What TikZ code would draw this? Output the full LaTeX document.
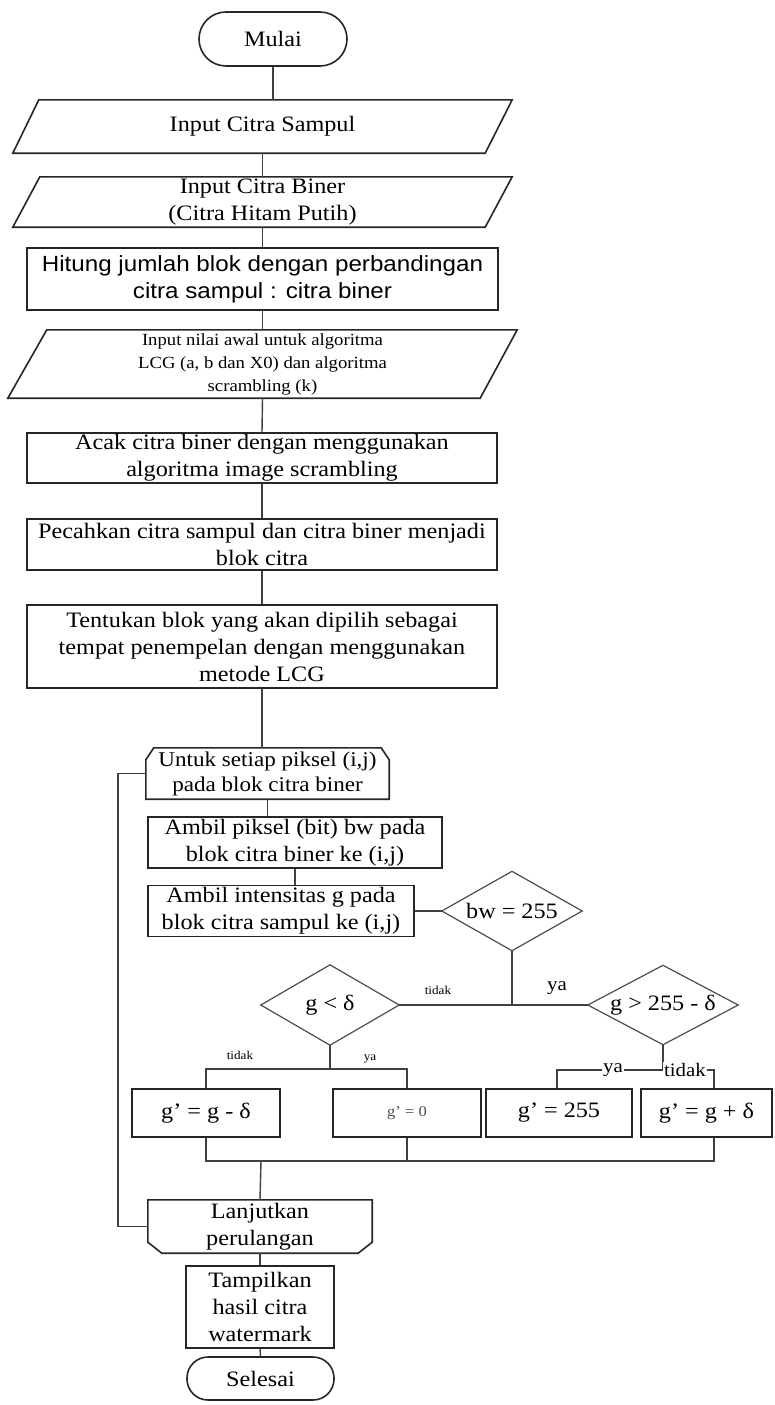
\documentclass[tikz,border=0pt]{standalone}
\usepackage{fontspec}
\setmainfont{Liberation Serif}[FakeStretch=1.1]
\newfontfamily\sansf{Liberation Sans}[FakeStretch=1.1]
\begin{document}
\begin{tikzpicture}[x=1pt,y=-1pt]
\tikzset{
  base/.style={inner sep=0pt, align=center, font=\fontsize{22}{27}\selectfont},
  box/.style={base, draw=black!85, line width=1.6pt},
  plain/.style={base},
  conn/.style={line width=1.4pt, draw=black!75},
  shapeline/.style={line width=1.6pt, draw=black!85},
  dialine/.style={line width=1.2pt, draw=black!70},
  lbls/.style={inner sep=1pt, font=\fontsize{12}{14}\selectfont},
  lblb/.style={inner sep=1pt, font=\fontsize{19}{22}\selectfont},
}
\useasboundingbox (0,0) rectangle (774,1405);

% top column
\node[box, rounded corners=27pt, minimum width=148pt, minimum height=54pt] (start) at (273,39) {Mulai};

\node[plain, minimum width=499pt, minimum height=53pt] (in1) at (262.5,126.5) {Input Citra Sampul};
\draw[shapeline] ([xshift=26pt]in1.north west) -- (in1.north east) -- ([xshift=-27pt]in1.south east) -- (in1.south west) -- cycle;

\node[plain, minimum width=499pt, minimum height=50pt] (in2) at (262.5,202) {Input Citra Biner\\(Citra Hitam Putih)};
\draw[shapeline] ([xshift=27pt]in2.north west) -- (in2.north east) -- ([xshift=-27pt]in2.south east) -- (in2.south west) -- cycle;

\node[box, minimum width=471pt, minimum height=62pt, font=\sansf\fontsize{22}{27}\selectfont] (hit) at (262.5,279) {Hitung jumlah blok dengan perbandingan\\citra sampul : citra biner};

\node[plain, minimum width=509pt, minimum height=68pt, font=\fontsize{17}{23}\selectfont] (in3) at (262.5,364) {Input nilai awal untuk algoritma\\LCG (a, b dan X0) dan algoritma\\scrambling (k)};
\draw[shapeline] ([xshift=39pt]in3.north west) -- (in3.north east) -- ([xshift=-37pt]in3.south east) -- (in3.south west) -- cycle;

\node[box, minimum width=470pt, minimum height=50pt] (acak) at (262,458) {Acak citra biner dengan menggunakan\\algoritma image scrambling};
\node[box, minimum width=470pt, minimum height=51pt] (pecah) at (262,544.5) {Pecahkan citra sampul dan citra biner menjadi\\blok citra};
\node[box, minimum width=470pt, minimum height=83pt] (tentu) at (262,646.5) {Tentukan blok yang akan dipilih sebagai\\tempat penempelan dengan menggunakan\\metode LCG};

% loop
\node[plain, minimum width=243pt, minimum height=51pt, font=\fontsize{21}{25}\selectfont] (untuk) at (267.5,773.5) {Untuk setiap piksel (i,j)\\pada blok citra biner};
\draw[shapeline] (untuk.south west) -- ([yshift=-12pt]untuk.north west) -- ([xshift=8pt]untuk.north west) -- ([xshift=-8pt]untuk.north east) -- ([yshift=-12pt]untuk.north east) -- (untuk.south east) -- cycle;

\node[box, minimum width=294pt, minimum height=51pt] (amb1) at (295,842.5) {Ambil piksel (bit) bw pada\\blok citra biner ke (i,j)};
\node[box, minimum width=266pt, minimum height=51pt] (amb2) at (281,911) {Ambil intensitas g pada\\blok citra sampul ke (i,j)};

% decisions
\node[plain, minimum width=140pt, minimum height=79pt] (bw) at (512,911) {bw = 255};
\draw[dialine] (bw.north) -- (bw.east) -- (bw.south) -- (bw.west) -- cycle;
\node[plain, minimum width=138pt, minimum height=80pt] (glt) at (330,1005) {g < δ};
\draw[dialine] (glt.north) -- (glt.east) -- (glt.south) -- (glt.west) -- cycle;
\node[plain, minimum width=150pt, minimum height=79pt] (ggt) at (663,1005) {g > 255 - δ};
\draw[dialine] (ggt.north) -- (ggt.east) -- (ggt.south) -- (ggt.west) -- cycle;

% results
\node[box, minimum width=148pt, minimum height=48pt] (b1) at (206,1113) {g' = g - δ};
\node[box, minimum width=148pt, minimum height=48pt, font=\fontsize{15}{18}\selectfont, text=black!70] (b2) at (407,1113) {g' = 0};
\node[box, minimum width=146pt, minimum height=48pt] (b3) at (559,1113) {g' = 255};
\node[box, minimum width=131pt, minimum height=48pt] (b4) at (706.5,1113) {g' = g + δ};

\node[plain, minimum width=224pt, minimum height=53pt] (lanj) at (260,1226.5) {Lanjutkan\\perulangan};
\draw[shapeline] (lanj.north west) -- (lanj.north east) -- ([yshift=11pt]lanj.south east) -- ([xshift=-14pt]lanj.south east) -- ([xshift=14pt]lanj.south west) -- ([yshift=11pt]lanj.south west) -- cycle;

\node[box, minimum width=148pt, minimum height=82pt] (tamp) at (260,1307) {Tampilkan\\hasil citra\\watermark};
\node[box, rounded corners=21pt, minimum width=147pt, minimum height=43pt] (end) at (260.5,1378.5) {Selesai};

% connectors
\draw[conn] (start.south) -- (start.south |- in1.north);
\draw[conn] (in1.south) -- (in2.north);
\draw[conn] (in2.south) -- (hit.north);
\draw[conn] (hit.south) -- (in3.north);
\draw[conn] (in3.south) -- (acak.north);
\draw[conn] (acak.south) -- (pecah.north);
\draw[conn] (pecah.south) -- (tentu.north);
\draw[conn] (tentu.south) -- (tentu.south |- untuk.north);
\draw[conn] (untuk.south) -- (untuk.south |- amb1.north);
\draw[conn] (amb1.south) -- (amb1.south |- amb2.north);
\draw[conn] (amb2.east) -- (bw.west);
\draw[conn] (bw.south) -- (bw.south |- glt.east);
\draw[conn] (glt.east) -- (ggt.west);

\coordinate (j2) at (330,1069);
\draw[conn] (glt.south) -- (j2);
\draw[conn] (b1.north) |- (j2) -| (b2.north);

\coordinate (j3) at (663,1070);
\draw[conn] (ggt.south) -- (j3);
\draw[conn] ([xshift=-2pt]b3.north) |- (j3) -| ([xshift=7.5pt]b4.north);

\coordinate (m) at (261,1161);
\draw[conn] ([xshift=7.5pt]b4.south) |- (b1.south |- m) -- (b1.south);
\draw[conn] (b2.south) -- (b2.south |- m);
\draw[conn] (m) -- (lanj.north);
\draw[conn] (lanj.west) -- ++(-30pt,0) |- (untuk.west);
\draw[conn] (lanj.south) -- (tamp.north);
\draw[conn] (tamp.south) -- (end.north);

% labels
\node[lbls] (t1) at (438,990) {tidak};
\node[lblb] (y1) at (557,988) {ya};
\node[lbls] (t2) at (240,1055) {tidak};
\node[lbls] (y2) at (370,1059) {ya};
\node[lblb, fill=white] (y3) at (613,1070) {ya};
\node[lblb, fill=white] (t3) at (685,1070) {tidak};
\end{tikzpicture}
\end{document}
